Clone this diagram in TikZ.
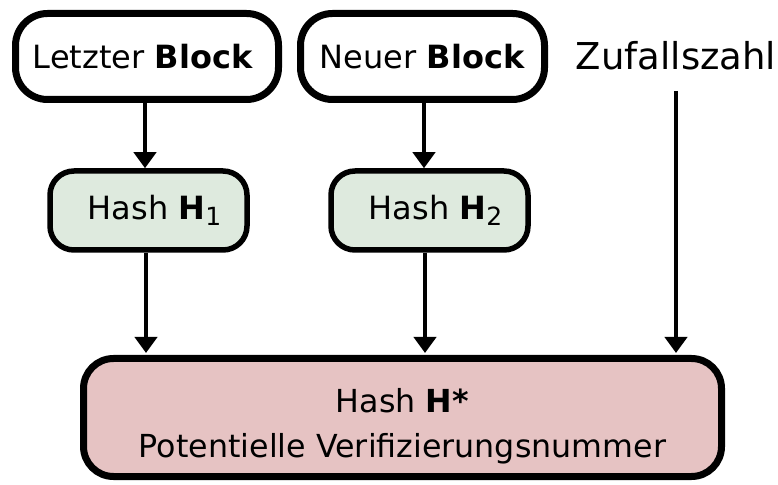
\documentclass[tikz,border=0pt]{standalone}
\usepackage{fontspec}
\setmainfont{DejaVu Sans}
\usetikzlibrary{arrows.meta}
\definecolor{hashgreen}{HTML}{DEEADE}
\definecolor{resultpink}{HTML}{E6C3C3}
\newcommand{\subnum}[1]{\raisebox{-0.2em}{\fontsize{25}{25}\selectfont #1}}
\begin{document}
\begin{tikzpicture}[x=1pt,y=1pt,
  blockbox/.style={draw, line width=7pt, rounded corners=32pt, fill=white,
    minimum height=86pt, inner sep=0pt, font=\fontsize{32}{36}\selectfont},
  hashbox/.style={draw, line width=5.5pt, rounded corners=24pt, fill=hashgreen,
    minimum width=197pt, minimum height=79pt, inner sep=0pt,
    font=\fontsize{32}{36}\selectfont, text height=22pt, text depth=4pt},
  resultbox/.style={draw, line width=7pt, rounded corners=30pt, fill=resultpink,
    minimum width=638pt, minimum height=118pt, inner sep=0pt, align=center,
    font=\fontsize{31.7}{44}\selectfont, text height=86pt, text depth=7pt},
  arr/.style={line width=4pt, -{Triangle[width=22pt,length=16pt]}}]
\useasboundingbox (0,0) rectangle (778,484);
% top boxes
\node[blockbox, minimum width=263pt] (L) at (147,427.5) {Letzter \textbf{Block}\hspace*{8pt}};
\node[blockbox, minimum width=244pt] (N) at (422.5,427.5) {Neuer \textbf{Block}};
\node[anchor=base, font=\fontsize{37}{40}\selectfont, inner sep=0pt] (Z) at (676,414) {Zufallszahl};
\coordinate (Zs) at (676,393);
% hash boxes
\node[hashbox] (H1) at (148.5,273.5) {\hspace*{12pt}Hash \textbf{H}\subnum{1}};
\node[hashbox] (H2) at (429.5,273.5) {\hspace*{12pt}Hash \textbf{H}\subnum{2}};
% result box
\node[resultbox] (R) at (402.5,66.5) {Hash \textbf{H*}\\Potentielle Verifizierungsnummer};
% connectors
\draw[arr] (L.south -| 145,0) -- (H1.north -| 145,0);
\draw[arr] (N.south -| 424,0) -- (H2.north -| 424,0);
\draw[arr] (H1.south -| 146,0) -- ([yshift=2pt]R.north -| 146,0);
\draw[arr] (H2.south -| 425,0) -- ([yshift=2pt]R.north -| 425,0);
\draw[arr] (Zs) -- ([yshift=2pt]R.north -| Zs);
\end{tikzpicture}
\end{document}
